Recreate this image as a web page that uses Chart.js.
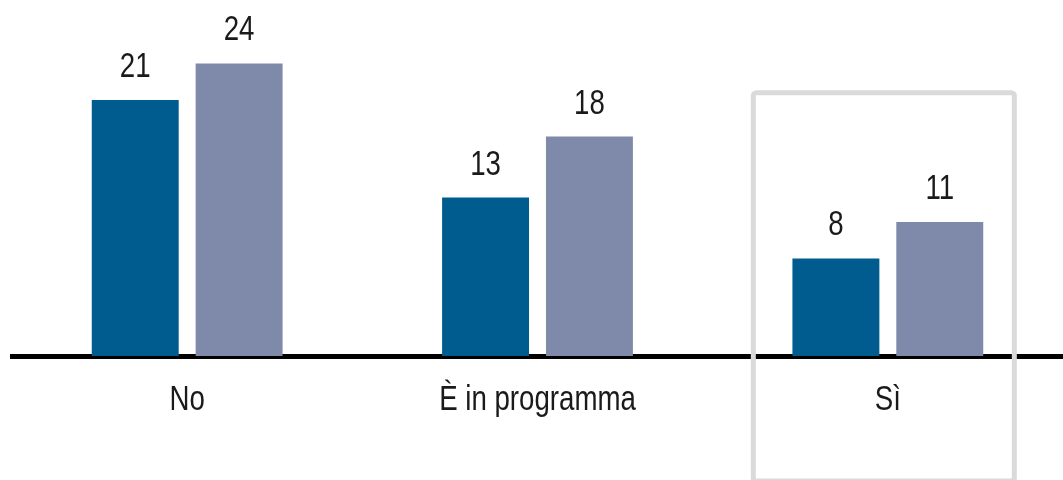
<!DOCTYPE html>
<html>
<head>
<meta charset="utf-8">
<script src="https://cdn.jsdelivr.net/npm/chart.js@4"></script>
<style>
	html, body { margin: 0; padding: 0; background: #fff; }
	#wrap { width: 1063px; height: 480px; position: relative; }
</style>
</head>
<body>
<div id="wrap"><canvas id="chart"></canvas></div>
<script>
const categories = ["No", "È in programma", "Sì"];
const serieA = [21, 13, 8];
const serieB = [24, 18, 11];
const highlighted = 2;

const font = "'Liberation Sans', Arial, sans-serif";
const squeeze = 0.79;

// condensed text: draw squeezed horizontally around (x, y)
const narrowText = function(ctx, text, x, y) {
	ctx.save();
	ctx.translate(x, y);
	ctx.scale(squeeze, 1);
	ctx.fillText(text, 0, 0);
	ctx.restore();
}

const valueLabels = {
	id: "valueLabels",
	afterDatasetsDraw(chart) {
		const ctx = chart.ctx;
		ctx.save();
		ctx.font = `35px ${font}`;
		ctx.fillStyle = "#1a1a1a";
		ctx.textAlign = "center";
		ctx.textBaseline = "alphabetic";
		chart.data.datasets.forEach(function(ds, i) {
			chart.getDatasetMeta(i).data.forEach(function(bar, j) {
				narrowText(ctx, ds.data[j], bar.x, bar.y - 23);
			});
		});
		ctx.restore();
	}
};

const categoryLabels = {
	id: "categoryLabels",
	afterDraw(chart) {
		const x = chart.scales.x;
		const ctx = chart.ctx;
		ctx.save();
		ctx.font = `35px ${font}`;
		ctx.fillStyle = "#1a1a1a";
		ctx.textAlign = "center";
		ctx.textBaseline = "alphabetic";
		categories.forEach(function(c, i) {
			narrowText(ctx, c, x.getPixelForValue(i), chart.chartArea.bottom + 54);
		});
		ctx.restore();
	}
};

const highlightBox = {
	id: "highlightBox",
	afterDraw(chart) {
		const x = chart.scales.x, y = chart.scales.y;
		const step = x.getPixelForValue(1) - x.getPixelForValue(0);
		const cx = x.getPixelForValue(highlighted) - 4;
		const w = step * 0.745;
		const top = y.getPixelForValue(21.6);
		const ctx = chart.ctx;
		ctx.save();
		ctx.strokeStyle = "#dadada";
		ctx.lineWidth = 5;
		ctx.beginPath();
		ctx.roundRect(cx - w / 2, top, w, chart.height - top + 1, 3);
		ctx.stroke();
		ctx.restore();
	}
};

new Chart(document.getElementById("chart"), {
	type: "bar",
	data: {
		labels: categories,
		datasets: [
			{data: serieA, backgroundColor: "#005b8e"},
			{data: serieB, backgroundColor: "#7f89aa"}
		]
	},
	options: {
		responsive: true,
		maintainAspectRatio: false,
		animation: false,
		layout: {padding: {left: 12, right: 0, top: 0, bottom: 124}},
		plugins: {legend: {display: false}, tooltip: {enabled: false}},
		datasets: {bar: {categoryPercentage: 0.593, barPercentage: 0.837}},
		scales: {
			x: {
				grid: {display: false, drawTicks: false},
				border: {display: true, color: "#000", width: 5},
				ticks: {display: false}
			},
			y: {
				display: false,
				min: 0,
				max: 29.2
			}
		}
	},
	plugins: [valueLabels, categoryLabels, highlightBox]
});
</script>
</body>
</html>
